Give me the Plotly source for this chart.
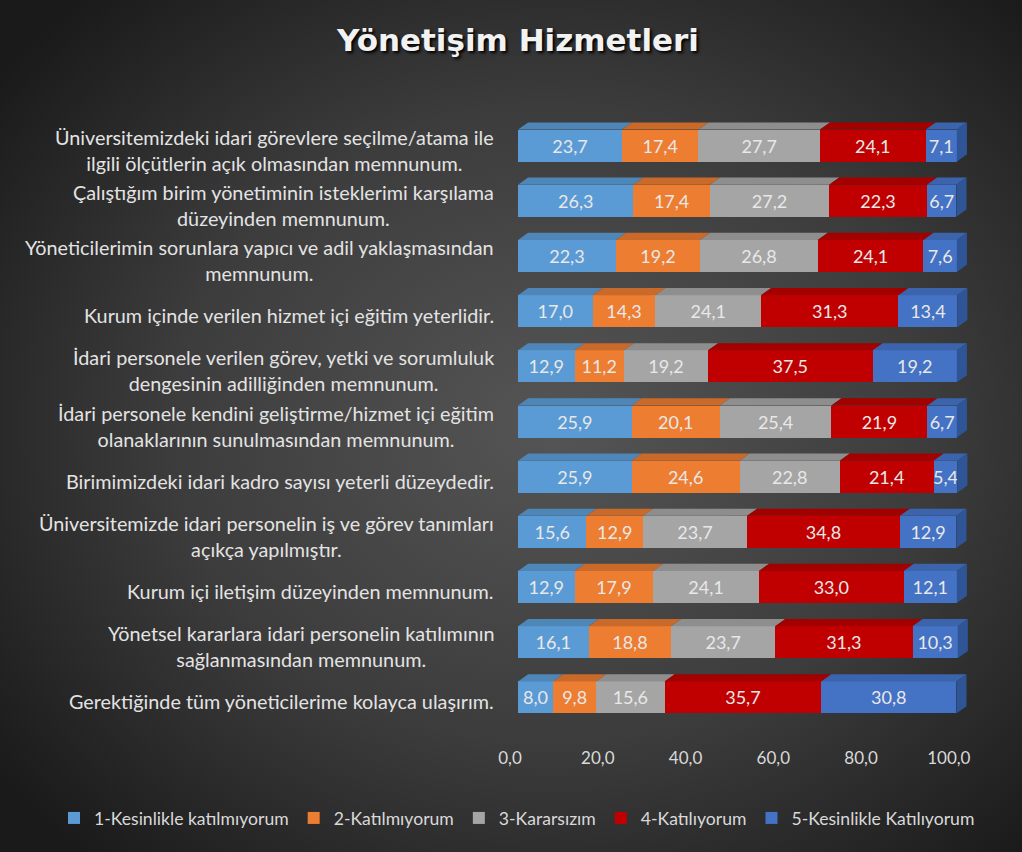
import base64
import plotly.graph_objects as go

categories = [
    "Üniversitemizdeki idari görevlere seçilme/atama ile<br>ilgili ölçütlerin açık olmasından memnunum.",
    "Çalıştığım birim yönetiminin isteklerimi karşılama<br>düzeyinden memnunum.",
    "Yöneticilerimin sorunlara yapıcı ve adil yaklaşmasından<br>memnunum.",
    "Kurum içinde verilen hizmet içi eğitim yeterlidir.",
    "İdari personele verilen görev, yetki ve sorumluluk<br>dengesinin adilliğinden memnunum.",
    "İdari personele kendini geliştirme/hizmet içi eğitim<br>olanaklarının sunulmasından memnunum.",
    "Birimimizdeki idari kadro sayısı yeterli düzeydedir.",
    "Üniversitemizde idari personelin iş ve görev tanımları<br>açıkça yapılmıştır.",
    "Kurum içi iletişim düzeyinden memnunum.",
    "Yönetsel kararlara idari personelin katılımının<br>sağlanmasından memnunum.",
    "Gerektiğinde tüm yöneticilerime kolayca ulaşırım.",
]

series_names = [
    "1-Kesinlikle katılmıyorum",
    "2-Katılmıyorum",
    "3-Kararsızım",
    "4-Katılıyorum",
    "5-Kesinlikle Katılıyorum",
]

s1 = [23.7, 26.3, 22.3, 17.0, 12.9, 25.9, 25.9, 15.6, 12.9, 16.1, 8.0]
s2 = [17.4, 17.4, 19.2, 14.3, 11.2, 20.1, 24.6, 12.9, 17.9, 18.8, 9.8]
s3 = [27.7, 27.2, 26.8, 24.1, 19.2, 25.4, 22.8, 23.7, 24.1, 23.7, 15.6]
s4 = [24.1, 22.3, 24.1, 31.3, 37.5, 21.9, 21.4, 34.8, 33.0, 31.3, 35.7]
s5 = [7.1, 6.7, 7.6, 13.4, 19.2, 6.7, 5.4, 12.9, 12.1, 10.3, 30.8]
series_values = [s1, s2, s3, s4, s5]

tick_values = [0, 20, 40, 60, 80, 100]

front_colors = ["#5b9bd5", "#ed7d31", "#a5a5a5", "#c00000", "#4472c4"]
top_colors = ["#4f86b8", "#c9692a", "#8e8e8e", "#a30000", "#3b64ad"]
side_color = "#2f5597"

FONT = "Lato"
BAR_W = 0.58
DX = 2.3
DY = 0.13

W, H = 1022, 852
ML, MR, MT, MB = 518, 52, 118, 127
pw = W - ML - MR
ph = H - MT - MB

pos = list(range(len(categories)))

fig = go.Figure()

svg = (
    '<svg xmlns="http://www.w3.org/2000/svg" width="1022" height="852">'
    '<defs><radialGradient id="g" cx="54%" cy="50%" r="68%">'
    '<stop offset="0%" stop-color="#555555"/>'
    '<stop offset="55%" stop-color="#3c3c3c"/>'
    '<stop offset="100%" stop-color="#1a1a1a"/>'
    '</radialGradient></defs>'
    '<rect width="1022" height="852" fill="url(#g)"/></svg>'
)
svg_uri = "data:image/svg+xml;base64," + base64.b64encode(svg.encode()).decode()

cum = [0.0] * len(categories)
for k, (name, vals) in enumerate(zip(series_names, series_values)):
    starts = cum[:]
    ends = [a + b for a, b in zip(starts, vals)]
    xs, ys = [], []
    for i in pos:
        yt = i - BAR_W / 2
        x0, x1 = starts[i], ends[i]
        xs += [x0, x1, x1 + DX, x0 + DX, x0, None]
        ys += [yt, yt, yt - DY, yt - DY, yt, None]
    fig.add_trace(go.Scatter(
        x=xs, y=ys, mode="lines", fill="toself", fillcolor=top_colors[k],
        line=dict(width=0, color=top_colors[k]), showlegend=False, hoverinfo="skip",
    ))
    if k == len(series_names) - 1:
        xs, ys = [], []
        for i in pos:
            yt = i - BAR_W / 2
            yb = i + BAR_W / 2
            x1 = ends[i]
            xs += [x1, x1 + DX, x1 + DX, x1, x1, None]
            ys += [yt, yt - DY, yb - DY, yb, yt, None]
        fig.add_trace(go.Scatter(
            x=xs, y=ys, mode="lines", fill="toself", fillcolor=side_color,
            line=dict(width=0, color=side_color), showlegend=False, hoverinfo="skip",
        ))
    fig.add_trace(go.Bar(
        name=name, x=vals, y=pos, orientation="h", width=BAR_W,
        marker=dict(color=front_colors[k], line=dict(width=0)),
        text=vals, texttemplate="%{x:.1f}", textposition="inside",
        insidetextanchor="middle", textangle=0,
        textfont=dict(color="#e8e8e8", size=18, family=FONT),
        hoverinfo="x+name",
    ))
    cum = ends

for i, cat in enumerate(categories):
    fig.add_annotation(
        x=0, xref="paper", y=i, yref="y", text=cat, showarrow=False,
        xanchor="right", yanchor="middle", align="center", xshift=-22, yshift=-4,
        font=dict(color="#e3e3e3", size=19.8, family=FONT),
    )

fig.update_layout(
    width=W, height=H,
    paper_bgcolor="#333333", plot_bgcolor="rgba(0,0,0,0)",
    images=[dict(source=svg_uri, xref="paper", yref="paper",
                 x=-ML / pw, y=1 + MT / ph, sizex=W / pw, sizey=H / ph,
                 xanchor="left", yanchor="top", sizing="stretch", layer="below")],
    barmode="stack",
    separators=",.",
    title=dict(text="<b>Yönetişim Hizmetleri</b>", x=518 / W, xanchor="center",
               y=1 - 40 / H, yanchor="middle",
               font=dict(color="#f2f2f2", size=31, family="DejaVu Sans",
                         shadow="2px 2px 3px #000000")),
    margin=dict(l=ML, r=MR, t=MT, b=MB, autoexpand=False),
    xaxis=dict(range=[0, 103], tickvals=tick_values, tickformat=".1f",
               showgrid=False, zeroline=False, showline=False, automargin=False,
               tickfont=dict(color="#d9d9d9", size=17, family=FONT),
               ticklabelstandoff=21, ticklabelshift=-8),
    yaxis=dict(range=[10.5, -0.5], showticklabels=False, showgrid=False,
               zeroline=False, showline=False, automargin=False),
    legend=dict(orientation="h", xref="paper", x=(54 - ML) / pw, xanchor="left",
                yref="paper", y=-(818 - (MT + ph)) / ph, yanchor="middle",
                bgcolor="rgba(0,0,0,0)",
                font=dict(color="#d9d9d9", size=17.6, family=FONT),
                itemwidth=30, traceorder="normal"),
    uniformtext=dict(minsize=18, mode="show"),
)

fig.write_html("out.html", config={"displayModeBar": False},
               post_script="document.body.style.margin='0';")
